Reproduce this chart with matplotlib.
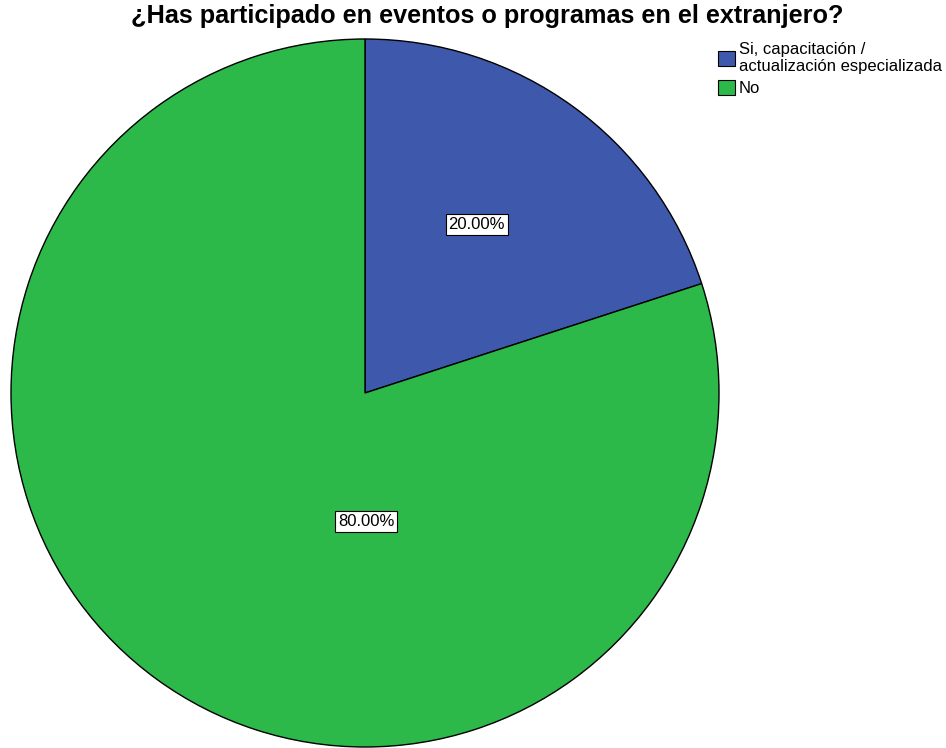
import matplotlib.pyplot as plt
import numpy as np

plt.rcParams['font.family'] = ['Liberation Sans', 'DejaVu Sans']

title = "¿Has participado en eventos o programas en el extranjero?"
categories = ["Si, capacitación /\nactualización especializada", "No"]
values = [20.0, 80.0]
colors = ["#3E58AC", "#2DB84A"]

fig = plt.figure(figsize=(9.46, 7.48), dpi=100)
ax = fig.add_axes([11 / 946, 1 / 748, 708 / 946, 708 / 748])

wedges, _ = ax.pie(values, colors=colors, startangle=90, counterclock=False,
                   wedgeprops=dict(edgecolor="black", linewidth=1.0))
ax.set_xlim(-1, 1)
ax.set_ylim(-1, 1)
ax.set_aspect("equal")
ax.axis("off")

# percentage labels (SPSS-style boxes)
label_pos = [(0.316, 0.477), (0.003, -0.364)]
for (x, y), v in zip(label_pos, values):
    ax.text(x, y, f"{v:.2f}%", ha="center", va="center", fontsize=12,
            bbox=dict(boxstyle="square,pad=0.18", fc="white", ec="black", lw=0.8))

fig.text(487.5 / 946, 1 - 4 / 748, title, ha="center", va="top", fontsize=18.2, fontweight="bold")

leg = fig.legend(wedges, categories, loc="upper left", bbox_to_anchor=(718 / 946, 1 - 42 / 748),
                 frameon=False, fontsize=12, handlelength=1.0, handleheight=1.0,
                 handletextpad=0.25, labelspacing=0.35, borderpad=0, borderaxespad=0)
for h in leg.legend_handles:
    h.set_linewidth(0.8)

fig.savefig("out.png", dpi=100)
